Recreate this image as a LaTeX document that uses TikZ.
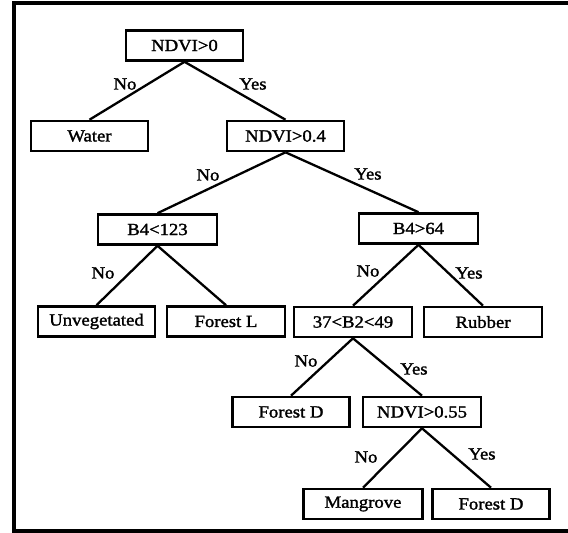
\documentclass[tikz,border=0pt]{standalone}
\usepackage{fontspec}
\setmainfont{Liberation Serif}[FakeStretch=1.1,FakeBold=1.6]
\newcommand{\lbl}{\fontsize{17}{19}\selectfont}
\begin{document}
\begin{tikzpicture}[x=1pt,y=-1pt,
  box/.style={draw,line width=2.6pt,minimum width=117pt,minimum height=30pt,inner sep=0pt,font=\lbl},
  edge/.style={line width=2.3pt},
  lab/.style={font=\lbl,inner sep=0pt}]
\useasboundingbox (0,0) rectangle (568,533);
\fill[white] (0,0) rectangle (568,533);
\draw[line width=3.5pt] (575,3) -- (14,3) -- (14,531) -- (575,531);

\node[box] (root) at (184.5,45.5) {NDVI>0};
\node[box] (water) at (89.5,136) {Water};
\node[box] (n04) at (285.5,136) {NDVI>0.4};
\node[box,minimum width=119pt] (b4a) at (157.5,229.5) {B4<123};
\node[box,minimum width=119pt] (b4b) at (418.5,228.5) {B4>64};
\node[box] (unveg) at (96.5,321.5) {Unvegetated};
\node[box,minimum width=118pt] (forl) at (226,321.5) {Forest L};
\node[box,minimum width=118pt] (b2) at (353,322) {37<B2<49};
\node[box,minimum width=118pt] (rub) at (483,322) {Rubber};
\node[box] (ford1) at (291,412) {Forest D};
\node[box,minimum width=118pt] (n055) at (422,412) {NDVI>0.55};
\node[box,minimum width=119pt] (mang) at (363,504) {Mangrove};
\node[box] (ford2) at (491,504) {Forest D};

\draw[edge] (root.south) -- (water.north);
\draw[edge] (root.south) -- (n04.north);
\draw[edge] (n04.south) -- (b4a.north);
\draw[edge] (n04.south) -- (b4b.north);
\draw[edge] (b4a.south) -- (unveg.north);
\draw[edge] (b4a.south) -- (forl.north);
\draw[edge] (b4b.south) -- (b2.north);
\draw[edge] (b4b.south) -- (rub.north);
\draw[edge] (b2.south) -- (ford1.north);
\draw[edge] (b2.south) -- (n055.north);
\draw[edge] (n055.south) -- (mang.north);
\draw[edge] (n055.south) -- (ford2.north);

\node[lab] (l1) at (125,84) {No};
\node[lab] (l2) at (253,84) {Yes};
\node[lab] (l3) at (208,175) {No};
\node[lab] (l4) at (368,174) {Yes};
\node[lab] (l5) at (103,273) {No};
\node[lab] (l6) at (368,271) {No};
\node[lab] (l7) at (469,273) {Yes};
\node[lab] (l8) at (306,361) {No};
\node[lab] (l9) at (414,369) {Yes};
\node[lab] (l10) at (366,457) {No};
\node[lab] (l11) at (482,454) {Yes};
\end{tikzpicture}
\end{document}
